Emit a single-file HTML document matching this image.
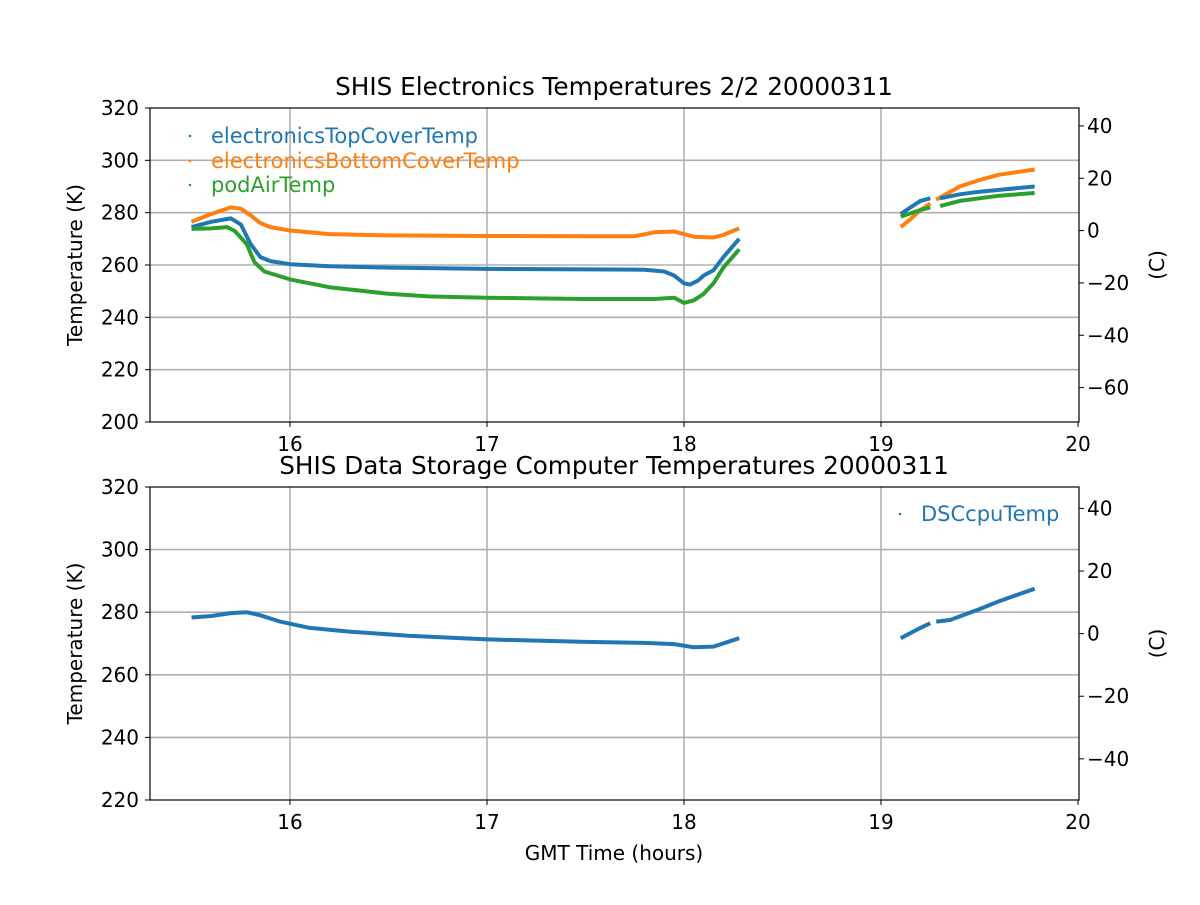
<!DOCTYPE html>
<html><head><meta charset="utf-8"><style>
body{margin:0;background:#fff;}
svg text{font-family:"DejaVu Sans","Liberation Sans",sans-serif;fill:#000;}
</style></head><body>
<svg id="s" width="1200" height="900" xmlns="http://www.w3.org/2000/svg"></svg>
<script>
const s=document.getElementById('s');let h='';
const X=t=>290+(t-16)*197;
function axes(top,bot,kmin,kmax,kt,ct,title){
  const Y=k=>bot-(k-kmin)/(kmax-kmin)*(bot-top);
  for(let t=16;t<=20;t++){if(t<20)h+=`<line x1="${X(t)}" y1="${top}" x2="${X(t)}" y2="${bot}" stroke="#b0b0b0" stroke-width="1.6"/>`;
    h+=`<line x1="${X(t)}" y1="${bot}" x2="${X(t)}" y2="${bot+5}" stroke="#000"/>`;
    h+=`<text x="${X(t)}" y="${bot+29}" font-size="20" text-anchor="middle">${t}</text>`;}
  kt.forEach(k=>{const y=Y(k);if(k>kmin&&k<kmax)h+=`<line x1="150" y1="${y}" x2="1079" y2="${y}" stroke="#b0b0b0" stroke-width="1.6"/>`;
    h+=`<line x1="145" y1="${y}" x2="150" y2="${y}" stroke="#000"/><text x="139" y="${y+7}" font-size="20" text-anchor="end">${k}</text>`;});
  ct.forEach(c=>{const y=Y(c+273.15);h+=`<line x1="1079" y1="${y}" x2="1084" y2="${y}" stroke="#000"/><text x="1087" y="${y+7}" font-size="20">${c<0?'\u2212'+(-c):c}</text>`;});
  h+=`<rect x="150" y="${top}" width="929" height="${bot-top}" fill="none" stroke="#000" stroke-width="1.2"/>`;
  h+=`<text x="614" y="${top-13}" font-size="24.7" text-anchor="middle">${title}</text>`;
  h+=`<text transform="translate(82,${(top+bot)/2}) rotate(-90)" font-size="20" text-anchor="middle">Temperature (K)</text>`;
  h+=`<text transform="translate(1164,${(top+bot)/2}) rotate(-90)" font-size="20" text-anchor="middle">(C)</text>`;
  return Y;
}
function line(Y,pts,col){
  h+=`<polyline points="${pts.map(p=>X(p[0]).toFixed(1)+','+Y(p[1]).toFixed(1)).join(' ')}" fill="none" stroke="${col}" stroke-width="4" stroke-linejoin="round"/>`;}
let Y1=axes(108,422,200,320,[200,220,240,260,280,300,320],[40,20,0,-20,-40,-60],'SHIS Electronics Temperatures 2/2 20000311');
const B='#1f77b4',O='#ff7f0e',G='#2ca02c';
line(Y1,[[15.5,276.5],[15.6,279.5],[15.7,282],[15.75,281.5],[15.8,279],[15.85,276],[15.9,274.5],[16,273.2],[16.2,271.8],[16.5,271.3],[17,271.1],[17.5,271],[17.75,271],[17.85,272.5],[17.95,272.8],[18.05,270.8],[18.15,270.5],[18.2,271.5],[18.28,274]],O);
line(Y1,[[15.5,274.5],[15.6,276.5],[15.7,277.8],[15.75,275.5],[15.8,268],[15.85,263],[15.9,261.5],[16,260.3],[16.2,259.5],[16.5,259],[17,258.5],[17.5,258.3],[17.8,258.2],[17.9,257.5],[17.95,256],[18,253],[18.03,252.5],[18.07,254],[18.1,256],[18.15,258],[18.2,263],[18.28,270]],B);
line(Y1,[[15.5,273.8],[15.6,274],[15.68,274.5],[15.72,273],[15.78,268],[15.82,261],[15.87,257.5],[16,254.5],[16.2,251.5],[16.5,249],[16.7,248],[17,247.5],[17.5,247],[17.85,247],[17.95,247.5],[18,245.5],[18.05,246.5],[18.1,249],[18.15,253],[18.2,259],[18.28,266]],G);
line(Y1,[[19.1,274.5],[19.15,277.5],[19.2,281],[19.25,283.5]],O);line(Y1,[[19.28,285],[19.4,290],[19.5,292.5],[19.6,294.5],[19.78,296.5]],O);
line(Y1,[[19.1,279.5],[19.15,282],[19.2,284.5],[19.25,285.5]],B);line(Y1,[[19.3,285.5],[19.4,287],[19.5,288],[19.6,288.7],[19.78,290]],B);
line(Y1,[[19.1,278.5],[19.2,281],[19.25,282]],G);line(Y1,[[19.3,282.5],[19.4,284.5],[19.5,285.5],[19.6,286.5],[19.78,287.5]],G);
[['electronicsTopCoverTemp',B,136],['electronicsBottomCoverTemp',O,161],['podAirTemp',G,185]].forEach(([t,c,y])=>{
  h+=`<circle cx="190" cy="${y}" r="1.3" fill="${c}"/><text x="211" y="${y+7}" font-size="21" style="fill:${c}">${t}</text>`;});
let Y2=axes(487,800,220,320,[220,240,260,280,300,320],[40,20,0,-20,-40],'SHIS Data Storage Computer Temperatures 20000311');
line(Y2,[[15.5,278.3],[15.6,278.8],[15.7,279.7],[15.78,280],[15.85,279],[15.95,277],[16.1,275],[16.3,273.8],[16.6,272.5],[17,271.3],[17.5,270.5],[17.8,270.2],[17.95,269.8],[18.05,268.8],[18.15,269],[18.28,271.7]],B);
line(Y2,[[19.1,271.7],[19.2,275],[19.25,276.5]],B);line(Y2,[[19.28,277],[19.35,277.5],[19.5,281],[19.6,283.5],[19.78,287.5]],B);
h+=`<circle cx="900" cy="514" r="1.3" fill="${B}"/><text x="921" y="521" font-size="21" style="fill:${B}">DSCcpuTemp</text>`;
h+=`<text x="614" y="860" font-size="20" text-anchor="middle">GMT Time (hours)</text>`;
s.innerHTML=h;
</script>
</body></html>
